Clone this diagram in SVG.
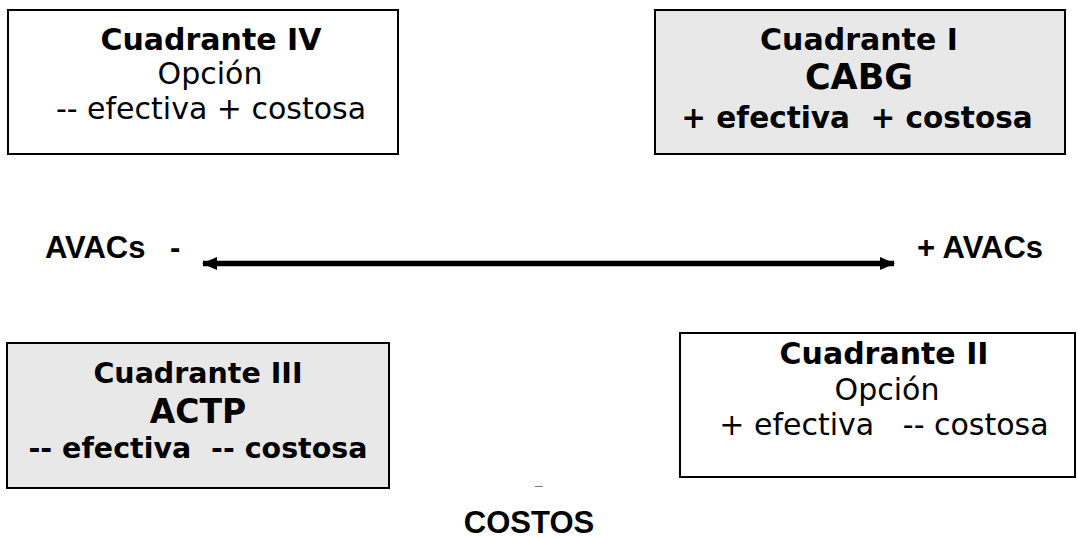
<svg xmlns="http://www.w3.org/2000/svg" width="1078" height="538" viewBox="0 0 1078 538">
  <style>
    .box { stroke: #000; stroke-width: 2; }
    .plain { fill: #fff; }
    .shade { fill: #e8e8e8; }
    .dv { font-family: "DejaVu Sans", sans-serif; fill: #000; text-anchor: middle; white-space: pre; }
    .b { font-weight: bold; }
    .ax { font-family: "Liberation Sans", Arial, sans-serif; font-weight: bold; font-size: 31px; fill: #000; white-space: pre; }
  </style>
  <defs>
    <marker id="ah" viewBox="0 0 15 13" refX="14" refY="6.5" markerWidth="15" markerHeight="13" markerUnits="userSpaceOnUse" orient="auto-start-reverse">
      <path d="M0,0 L15,6.5 L0,13 Z" fill="#000"/>
    </marker>
  </defs>

  <g id="cuadrante-iv">
    <rect class="box plain" x="8" y="10" width="390" height="144"/>
    <text class="dv b" x="211" y="50" font-size="30">Cuadrante IV</text>
    <text class="dv" x="210" y="84" font-size="30">Opción</text>
    <text class="dv" x="211" y="119" font-size="30">-- efectiva + costosa</text>
  </g>

  <g id="cuadrante-i">
    <rect class="box shade" x="655" y="10" width="410" height="144"/>
    <text class="dv b" x="859" y="50" font-size="30">Cuadrante I</text>
    <text class="dv b" x="859" y="89" font-size="35">CABG</text>
    <text class="dv b" x="857" y="128" font-size="29.5" xml:space="preserve">+ efectiva  + costosa</text>
  </g>

  <g id="cuadrante-iii">
    <rect class="box shade" x="7" y="343" width="382" height="145"/>
    <text class="dv b" x="198" y="383" font-size="28.5">Cuadrante III</text>
    <text class="dv b" x="198" y="423" font-size="33">ACTP</text>
    <text class="dv b" x="198" y="458" font-size="28.5" xml:space="preserve">-- efectiva  -- costosa</text>
  </g>

  <g id="cuadrante-ii">
    <rect class="box plain" x="680" y="333" width="395" height="144"/>
    <text class="dv b" x="884" y="364" font-size="30">Cuadrante II</text>
    <text class="dv" x="887" y="400" font-size="30">Opción</text>
    <text class="dv" x="884" y="435" font-size="30" xml:space="preserve">+ efectiva   -- costosa</text>
  </g>

  <g id="connectors">
    <line x1="203" y1="263.5" x2="894" y2="263.5" stroke="#000" stroke-width="5.5" marker-start="url(#ah)" marker-end="url(#ah)"/>
  </g>

  <g id="eje-labels">
    <text class="ax" x="45" y="258">AVACs<tspan x="170">-</tspan></text>
    <text class="ax" x="917" y="258">+ AVACs</text>
    <text x="539" y="490" font-family="Liberation Sans, Arial, sans-serif" font-size="14" fill="#777" text-anchor="middle">–</text>
    <text class="ax" x="529" y="533" text-anchor="middle">COSTOS</text>
  </g>
</svg>
